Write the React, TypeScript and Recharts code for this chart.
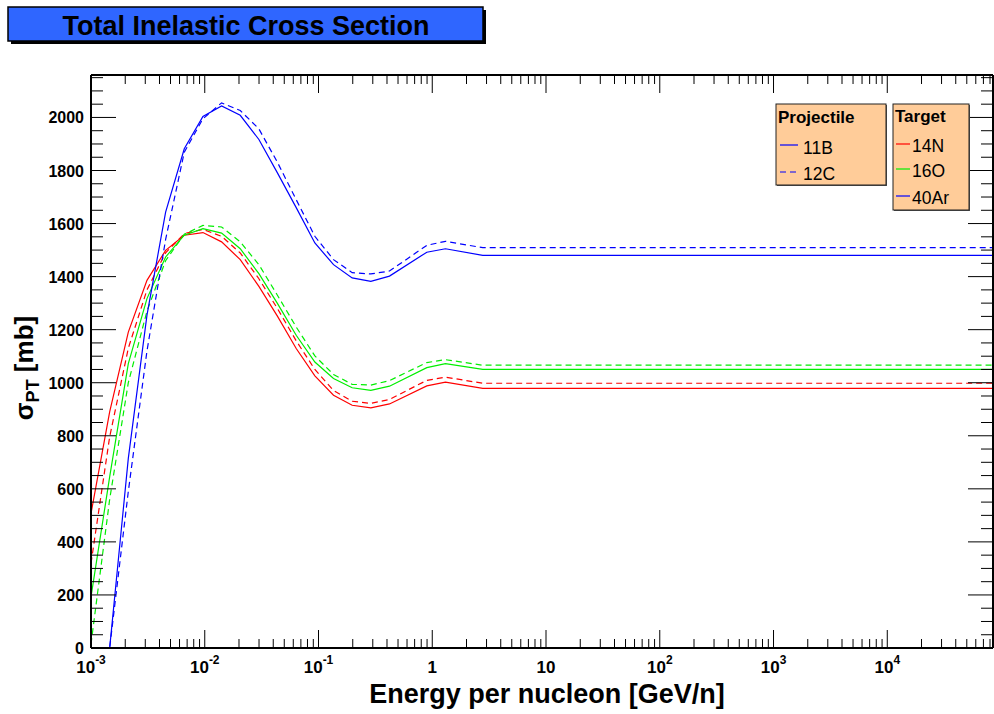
import { LineChart, Line, XAxis, YAxis } from "recharts";

// energy per nucleon [GeV/n] at the curve vertices
const energy = [
  0.001, 0.001459, 0.002128, 0.003105, 0.004529, 0.006607, 0.009638, 0.01406,
  0.02051, 0.02992, 0.04365, 0.06368, 0.0929, 0.1355, 0.1977, 0.2884, 0.4207,
  0.8954, 1.306, 2.78, 85000,
];

// sigma_PT [mb]
const b11N14 = [507, 890, 1191, 1386, 1499, 1556, 1566, 1531, 1464, 1363, 1250, 1129, 1026, 953, 915, 905, 920, 988, 1002, 979, 979];
const c12N14 = [319, 796, 1130, 1350, 1490, 1562, 1578, 1552, 1489, 1392, 1279, 1158, 1050, 971, 930, 922, 937, 1009, 1021, 998, 998];
const b11O16 = [193, 645, 1072, 1317, 1474, 1556, 1581, 1564, 1505, 1411, 1298, 1179, 1078, 1016, 981, 971, 987, 1057, 1072, 1050, 1050];
const c12O16 = [15, 560, 1000, 1270, 1460, 1560, 1593, 1587, 1531, 1445, 1329, 1210, 1101, 1031, 994, 991, 1008, 1076, 1087, 1066, 1066];
const b11Ar40 = [0, 0, 715, 1255, 1643, 1882, 2004, 2043, 2008, 1917, 1790, 1660, 1527, 1445, 1395, 1382, 1402, 1492, 1505, 1480, 1480];
const c12Ar40 = [0, 0, 590, 1120, 1540, 1869, 1995, 2055, 2026, 1957, 1830, 1690, 1552, 1464, 1415, 1410, 1421, 1518, 1533, 1509, 1509];

const decades = [-3, -2, -1, 0, 1, 2, 3, 4];
const yMax = 2160;

const data = energy.map((e, i) => ({
  e,
  bN: b11N14[i],
  cN: c12N14[i],
  bO: b11O16[i],
  cO: c12O16[i],
  bAr: b11Ar40[i],
  cAr: c12Ar40[i],
}));

const xTicks: number[] = [];
decades.forEach((d) => {
  for (let m = 1; m <= 9; m++) {
    const v = m * Math.pow(10, d);
    if (v <= 85000) xTicks.push(v);
  }
});
const yTicks: number[] = [];
for (let v = 0; v <= 2150; v += 50) yTicks.push(v);

const FONT = "'Liberation Sans', Arial, Helvetica, sans-serif";
const DASH = "6 4";

const isMajorX = (v: number) => {
  const l = Math.log10(v);
  return Math.abs(l - Math.round(l)) < 1e-6;
};

const XTick = (props: any) => {
  const { x, y, payload, side } = props;
  const v = payload.value;
  const major = isMajorX(v);
  const len = major ? 18 : 9;
  const dir = side === "bottom" ? -1 : 1;
  let label: any = null;
  if (side === "bottom" && major) {
    const p = Math.round(Math.log10(v));
    label =
      p === 0 || p === 1 ? (
        <text x={x} y={y + 25} textAnchor="middle" fontSize={17} fontWeight="bold" fontFamily={FONT}>
          {p === 0 ? "1" : "10"}
        </text>
      ) : (
        <text x={x} y={y + 25} textAnchor="middle" fontSize={17} fontWeight="bold" fontFamily={FONT}>
          <tspan>10</tspan>
          <tspan dy={-9} fontSize={12}>{String(p)}</tspan>
        </text>
      );
  }
  return (
    <g>
      <line x1={x} y1={y} x2={x} y2={y + dir * len} stroke="#000" strokeWidth={1} />
      {label}
    </g>
  );
};

const YTick = (props: any) => {
  const { x, y, payload, side } = props;
  const v = payload.value;
  const major = v % 200 === 0;
  const len = major ? 25 : 12;
  const dir = side === "left" ? 1 : -1;
  return (
    <g>
      <line x1={x} y1={y} x2={x + dir * len} y2={y} stroke="#000" strokeWidth={1} />
      {side === "left" && major && (
        <text x={x - 7} y={y + 6} textAnchor="end" fontSize={16} fontWeight="bold" fontFamily={FONT}>
          {v}
        </text>
      )}
    </g>
  );
};

const series = [
  { key: "bN", color: "#ff0000", dash: undefined },
  { key: "cN", color: "#ff0000", dash: DASH },
  { key: "bO", color: "#00ee00", dash: undefined },
  { key: "cO", color: "#00ee00", dash: DASH },
  { key: "bAr", color: "#0000ff", dash: undefined },
  { key: "cAr", color: "#0000ff", dash: DASH },
];

export default function App() {
  return (
    <div style={{ position: "absolute", left: 0, top: 0, width: 994, height: 714, background: "#fff" }}>
      <LineChart
        width={994}
        height={714}
        data={data}
        margin={{ top: 74, right: 0, bottom: 65, left: 90 }}
      >
        <XAxis
          dataKey="e"
          type="number"
          scale="log"
          domain={[0.001, 85000]}
          allowDataOverflow
          ticks={xTicks}
          interval={0}
          height={1}
          tickSize={0}
          tickMargin={0}
          tickLine={false}
          axisLine={{ stroke: "#000", strokeWidth: 2 }}
          tick={(p: any) => <XTick {...p} side="bottom" />}
        />
        <XAxis
          xAxisId="top"
          orientation="top"
          dataKey="e"
          type="number"
          scale="log"
          domain={[0.001, 85000]}
          allowDataOverflow
          ticks={xTicks}
          interval={0}
          height={1}
          tickSize={0}
          tickMargin={0}
          tickLine={false}
          axisLine={{ stroke: "#000", strokeWidth: 2 }}
          tick={(p: any) => <XTick {...p} side="top" />}
        />
        <YAxis
          type="number"
          domain={[0, yMax]}
          allowDataOverflow
          ticks={yTicks}
          interval={0}
          width={1}
          tickSize={0}
          tickMargin={0}
          tickLine={false}
          axisLine={{ stroke: "#000", strokeWidth: 2 }}
          tick={(p: any) => <YTick {...p} side="left" />}
        />
        <YAxis
          yAxisId="right"
          orientation="right"
          type="number"
          domain={[0, yMax]}
          allowDataOverflow
          ticks={yTicks}
          interval={0}
          width={1}
          tickSize={0}
          tickMargin={0}
          tickLine={false}
          axisLine={{ stroke: "#000", strokeWidth: 2 }}
          tick={(p: any) => <YTick {...p} side="right" />}
        />
        {series.map((s) => (
          <Line
            key={s.key}
            type="linear"
            dataKey={s.key}
            stroke={s.color}
            strokeWidth={1.2}
            strokeDasharray={s.dash}
            dot={false}
            activeDot={false}
            isAnimationActive={false}
          />
        ))}
        <Line
          xAxisId="top"
          yAxisId="right"
          type="linear"
          dataKey="cAr"
          stroke="none"
          dot={false}
          activeDot={false}
          isAnimationActive={false}
        />
      </LineChart>

      <svg
        width={994}
        height={714}
        style={{ position: "absolute", left: 0, top: 0, pointerEvents: "none" }}
        fontFamily={FONT}
      >
        {/* title pave */}
        <rect x={11} y={10} width={475} height={34} fill="#000" />
        <rect x={8} y={7} width={475} height={34} fill="#2f66ff" stroke="#000" strokeWidth={1.5} />
        <text x={246} y={35} textAnchor="middle" fontSize={27} fontWeight="bold">
          Total Inelastic Cross Section
        </text>

        {/* axis titles */}
        <text x={547} y={703} textAnchor="middle" fontSize={27} fontWeight="bold">
          Energy per nucleon [GeV/n]
        </text>
        <text transform="translate(33,368) rotate(-90)" textAnchor="middle" fontSize={26} fontWeight="bold">
          <tspan>σ</tspan>
          <tspan dy={6} fontSize={18}>PT</tspan>
          <tspan dy={-6}> [mb]</tspan>
        </text>

        {/* projectile legend */}
        <rect x={777} y={105} width={110} height={81} fill="#555" />
        <rect x={776} y={104} width={110} height={81} fill="#ffcc99" stroke="#222" strokeWidth={1} />
        <text x={778} y={123} fontSize={17} fontWeight="bold">Projectile</text>
        <line x1={780} y1={145} x2={798} y2={145} stroke="#0000ff" strokeWidth={1.2} />
        <text x={803} y={154} fontSize={17.5}>11B</text>
        <line x1={780} y1={172} x2={798} y2={172} stroke="#0000ff" strokeWidth={1.2} strokeDasharray={DASH} />
        <text x={803} y={180} fontSize={17.5}>12C</text>

        {/* target legend */}
        <rect x={894} y={105} width={76} height={106} fill="#555" />
        <rect x={893} y={104} width={76} height={106} fill="#ffcc99" stroke="#222" strokeWidth={1} />
        <text x={895} y={122} fontSize={17} fontWeight="bold">Target</text>
        <line x1={896} y1={144} x2={910} y2={144} stroke="#ff0000" strokeWidth={1.2} />
        <text x={912} y={152} fontSize={17.5}>14N</text>
        <line x1={896} y1={169} x2={910} y2={169} stroke="#00ee00" strokeWidth={1.2} />
        <text x={912} y={177} fontSize={17.5}>16O</text>
        <line x1={896} y1={196} x2={910} y2={196} stroke="#0000ff" strokeWidth={1.2} />
        <text x={912} y={204} fontSize={17.5}>40Ar</text>
      </svg>
    </div>
  );
}
